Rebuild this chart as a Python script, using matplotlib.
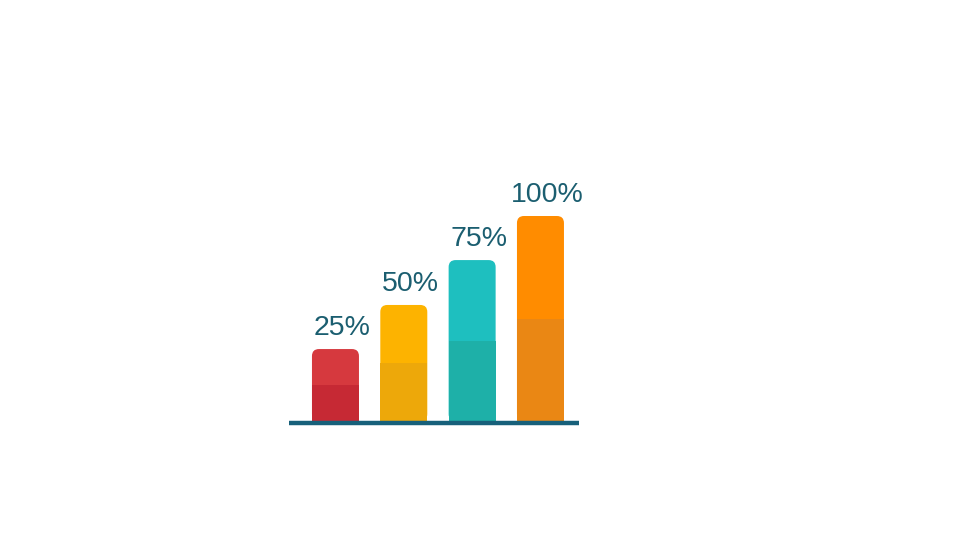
import matplotlib
matplotlib.use("Agg")
import matplotlib.pyplot as plt
from matplotlib.patches import FancyBboxPatch, Rectangle

# Data
labels = ["25%", "50%", "75%", "100%"]
bar_heights = [35.1, 56.6, 78.5, 100.0]
top_colors = ["#D6393E", "#FDB300", "#1EBFBF", "#FF8C00"]
base_colors = ["#C62934", "#EDA80A", "#1EB0A8", "#EA8714"]

text_color = "#1B5E70"
line_color = "#17607A"

W, H = 960, 540
fig = plt.figure(figsize=(W / 100, H / 100), dpi=100)
fig.patch.set_facecolor("white")

ax_left, ax_right = 289, 579
baseline_px = 421          # from top
below_px = 5
ymax = 125
y_per_px = 100 / 205
ymin = -below_px * y_per_px
ax_h_px = (ymax - ymin) / y_per_px
ax = fig.add_axes([ax_left / W, (H - baseline_px - below_px) / H,
                   (ax_right - ax_left) / W, ax_h_px / H])
xmin, xmax = -0.68, 3.564
ax.set_xlim(xmin, xmax)
ax.set_ylim(ymin, ymax)
ax.axis("off")

x_per_px = (xmax - xmin) / (ax_right - ax_left)
width = 47 * x_per_px
radius_px = 7
r = radius_px * x_per_px
asp = y_per_px / x_per_px

for i, (h, c1, c2, lab) in enumerate(zip(bar_heights, top_colors, base_colors, labels)):
    x0 = i - width / 2
    box = FancyBboxPatch((x0, 0), width, h,
                         boxstyle=f"round,pad=0,rounding_size={r}",
                         mutation_aspect=asp, facecolor=c1, edgecolor="none", zorder=2)
    ax.add_patch(box)
    ax.add_patch(Rectangle((x0, 0), width, h / 2, facecolor=c2, edgecolor="none", zorder=3))
    ax.annotate(lab, xy=(i, h), xytext=(4.7, 10), textcoords="offset points",
                ha="center", va="baseline", fontsize=20.5, color=text_color,
                family=["Liberation Sans", "DejaVu Sans"], zorder=5)

ax.axhline(-2.2 * y_per_px, color=line_color, linewidth=3.2, zorder=4, solid_capstyle="butt")

fig.savefig("out.png", dpi=100, facecolor="white")
